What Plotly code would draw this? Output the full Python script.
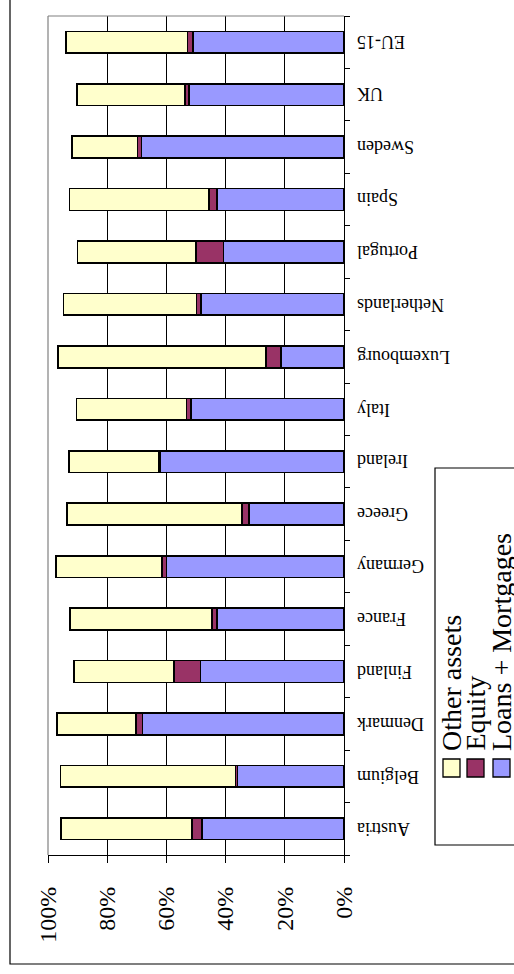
import plotly.graph_objects as go

# Composition of assets by country (share of total, %)
categories = ["Austria", "Belgium", "Denmark", "Finland", "France", "Germany",
              "Greece", "Ireland", "Italy", "Luxembourg", "Netherlands",
              "Portugal", "Spain", "Sweden", "UK", "EU-15"]
loans_mortgages = [47.9, 36.0, 68.1, 48.5, 43.0, 60.0, 32.0, 62.2, 51.7, 21.2,
                   48.4, 40.7, 43.0, 68.4, 52.4, 51.0]
equity = [3.5, 0.6, 2.2, 9.0, 1.5, 1.4, 2.5, 0.5, 1.5, 5.2,
          1.5, 9.3, 2.7, 1.3, 1.4, 1.9]
other_assets = [44.2, 59.2, 26.7, 33.7, 48.0, 35.8, 59.0, 30.3, 37.2, 70.3,
                44.9, 40.0, 47.1, 22.2, 36.5, 41.1]
value_ticks = [0, 20, 40, 60, 80, 100]
value_tick_labels = ["0%", "20%", "40%", "60%", "80%", "100%"]

series = [
    ("Loans + Mortgages", loans_mortgages, "#9999FF"),
    ("Equity", equity, "#993366"),
    ("Other assets", other_assets, "#FFFFCC"),
]

FONT = "Liberation Serif, Times New Roman, serif"

# Pixel layout of the plotting area
W, H = 514, 974
PL, PR, PT, PB = 48, 344, 16, 855
pw, ph = PR - PL, PB - PT


def px(x):
    return (x - PL) / pw


def py(y):
    return (PB - y) / ph


fig = go.Figure()
for name, vals, color in series:
    fig.add_trace(go.Bar(
        y=categories, x=vals, name=name, orientation="h",
        marker=dict(color=color, line=dict(color="black", width=1.6)),
        showlegend=False, hoverinfo="x+y+name",
    ))

shapes = []
annotations = []

# plot-area frame (grey top and left edges)
shapes.append(dict(type="line", xref="paper", yref="paper", x0=0, x1=1, y0=1, y1=1,
                   line=dict(color="#808080", width=1.2), layer="above"))
shapes.append(dict(type="line", xref="paper", yref="paper", x0=0, x1=0, y0=0, y1=1,
                   line=dict(color="#808080", width=1.2), layer="above"))

# outer chart border
shapes.append(dict(type="rect", xref="paper", yref="paper",
                   x0=px(10), x1=px(560), y0=py(964), y1=py(-40),
                   line=dict(color="black", width=1.2), fillcolor="rgba(0,0,0,0)"))

# legend box
shapes.append(dict(type="rect", xref="paper", yref="paper",
                   x0=px(435), x1=px(560), y0=py(845), y1=py(468),
                   line=dict(color="black", width=1.2), fillcolor="white"))

legend_items = [("Other assets", "#FFFFCC", 443), ("Equity", "#993366", 467),
                ("Loans + Mortgages", "#9999FF", 493)]
for label, color, lx in legend_items:
    shapes.append(dict(type="rect", xref="paper", yref="paper",
                       x0=px(lx), x1=px(lx + 17), y0=py(777), y1=py(759),
                       line=dict(color="black", width=1.3), fillcolor=color))
    annotations.append(dict(text=label, textangle=-90, xref="paper", yref="paper",
                            x=px(lx + 8), y=py(752), xanchor="center", yanchor="bottom",
                            showarrow=False, borderpad=0,
                            font=dict(family=FONT, size=28, color="black")))

# category labels (upside down, to the right of the axis)
for c in categories:
    annotations.append(dict(text=c, textangle=180, xref="paper", yref="y",
                            x=px(355), y=c, xanchor="left", yanchor="middle",
                            showarrow=False,
                            font=dict(family=FONT, size=18, color="black")))

fig.update_layout(
    barmode="stack",
    bargap=0.585,
    width=W, height=H,
    margin=dict(l=PL, r=W - PR, t=PT, b=H - PB, pad=0),
    paper_bgcolor="white", plot_bgcolor="white",
    shapes=shapes, annotations=annotations,
    xaxis=dict(range=[100, 0], tickmode="array", tickvals=value_ticks,
               ticktext=value_tick_labels,
               tickangle=-90, tickfont=dict(family=FONT, size=24, color="black"),
               showgrid=True, gridcolor="black", gridwidth=1,
               showline=True, linecolor="black", linewidth=1.2,
               ticks="outside", ticklen=7, tickcolor="black", tickwidth=1.2,
               ticklabelstandoff=14, zeroline=False, fixedrange=True),
    yaxis=dict(type="category", categoryorder="array", categoryarray=categories,
               side="right", showticklabels=False, tickson="boundaries",
               ticks="outside", ticklen=5, tickcolor="black", tickwidth=1.2,
               showline=True, linecolor="black", linewidth=1.2,
               showgrid=False, zeroline=False, fixedrange=True),
)

fig.write_html("out.html")
